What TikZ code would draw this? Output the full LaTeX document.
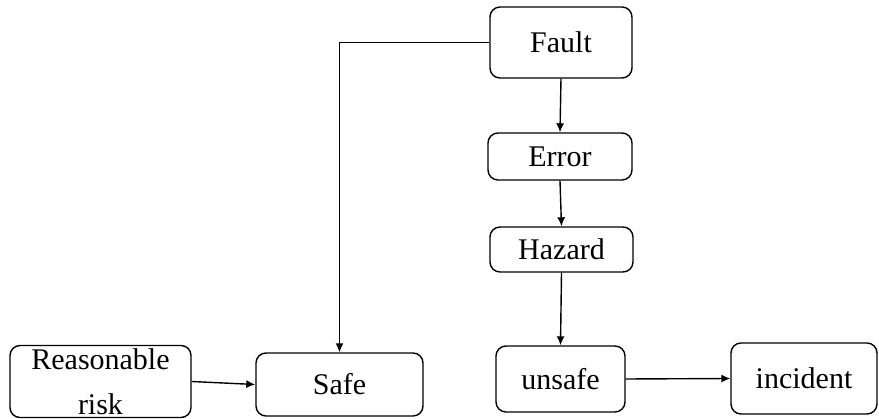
\documentclass[tikz,border=0pt]{standalone}
\usepackage{fontspec}
\setmainfont{Liberation Serif}
\usetikzlibrary{arrows.meta}

\begin{document}
\begin{tikzpicture}[x=1pt,y=-1pt]

\tikzset{
  BoxStyle/.style = { rectangle, rounded corners=10pt, draw, line width=1.4pt,
                      inner sep=0pt, align=center,
                      font = \fontsize{30}{45}\selectfont },
  EdgeStyle/.style = { line width=1.4pt, -{Latex[length=9pt,width=8pt]} } }

  \useasboundingbox (0,0) rectangle (879,419);

  \node[BoxStyle, minimum width=142pt, minimum height=71pt] (fault)  at (561, 42.5) {Fault};
  \node[BoxStyle, minimum width=144pt, minimum height=47pt] (error)  at (560, 156.5) {Error};
  \node[BoxStyle, minimum width=143pt, minimum height=45pt] (hazard) at (561.5, 249.5) {Hazard};

  \node[BoxStyle, minimum width=129pt, minimum height=66pt] (unsafe)   at (560.5, 379) {unsafe};
  \node[BoxStyle, minimum width=146pt, minimum height=71pt] (incident) at (804, 378.5) {incident};

  \node[BoxStyle, minimum width=181pt, minimum height=72pt] (risk) at (100.5, 381.5) {Reasonable\\risk};
  \node[BoxStyle, minimum width=167pt, minimum height=63pt] (safe) at (339.5, 384.5) {Safe};

  \draw[EdgeStyle] (fault.west) -| (safe.north);
  \draw[EdgeStyle] (fault.south) -- (error.north);
  \draw[EdgeStyle] (error.south) -- (hazard.north);
  \draw[EdgeStyle] (hazard.south) -- (unsafe.north);
  \draw[EdgeStyle] (unsafe.east) -- (incident.west);
  \draw[EdgeStyle] (risk.east) -- (safe.west);

\end{tikzpicture}
\end{document}
